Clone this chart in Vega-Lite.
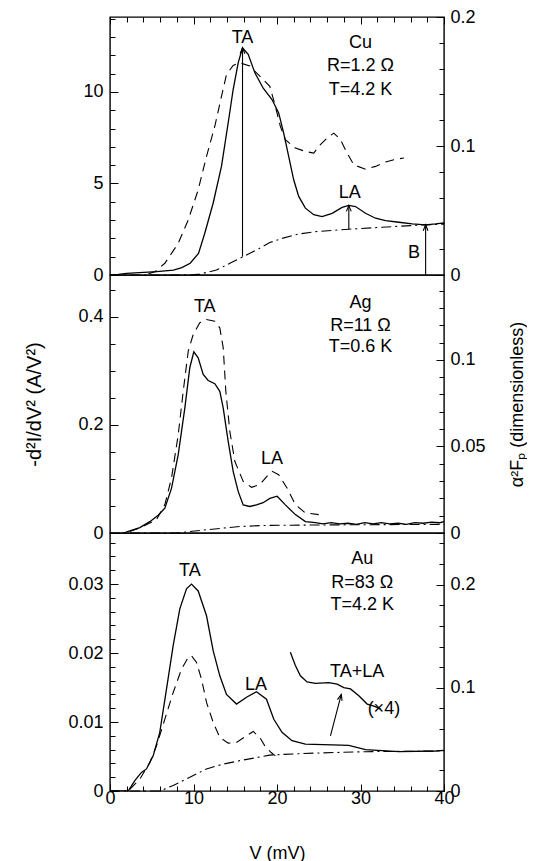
{
  "$schema": "https://vega.github.io/schema/vega-lite/v6.json",
  "padding": {"left": 24, "top": 7, "right": 0, "bottom": 0},
  "spacing": 0,
  "bounds": "flush",
  "config": {
    "view": {"stroke": "black", "strokeWidth": 1.4},
    "font": "Liberation Sans",
    "axis": {"domain": false, "grid": false, "tickColor": "black", "labelColor": "black", "titleColor": "black",
      "labelFont": "Liberation Sans", "labelFontSize": 18, "titleFont": "Liberation Sans", "titleFontSize": 18,
      "titleFontWeight": "normal", "tickWidth": 1, "labelOverlap": false, "labelFlush": false, "labelBound": false},
    "text": {"font": "Liberation Sans", "fontSize": 18, "color": "black"},
    "line": {"color": "black", "strokeWidth": 1.3}
  },
  "datasets": {
    "cu_solid": [{"v":0,"y":0},{"v":1,"y":0.03},{"v":2,"y":0.09},{"v":3.5,"y":0.13},{"v":5.6,"y":0.18},{"v":7.6,"y":0.27},{"v":8.6,"y":0.4},{"v":9.6,"y":0.64},{"v":10.6,"y":1.18},{"v":11.35,"y":2.28},{"v":12.35,"y":3.92},{"v":13.35,"y":5.93},{"v":14.15,"y":8.3},{"v":14.75,"y":10.13},{"v":15.35,"y":11.59},{"v":15.87,"y":12.41},{"v":16.55,"y":12.05},{"v":17.35,"y":11.04},{"v":18.35,"y":10.2},{"v":19.4,"y":9.58},{"v":20.2,"y":8.85},{"v":20.8,"y":7.75},{"v":21.4,"y":6.48},{"v":22.0,"y":5.2},{"v":22.6,"y":4.29},{"v":23.4,"y":3.65},{"v":24.4,"y":3.29},{"v":25.4,"y":3.19},{"v":26.6,"y":3.37},{"v":27.8,"y":3.69},{"v":28.6,"y":3.8},{"v":29.4,"y":3.74},{"v":30.6,"y":3.37},{"v":31.8,"y":3.1},{"v":33.0,"y":2.97},{"v":34.6,"y":2.88},{"v":36.2,"y":2.79},{"v":37.8,"y":2.74},{"v":39.0,"y":2.79},{"v":40,"y":2.85}],
    "cu_dash": [{"v":4.6,"y":0.001},{"v":5.4,"y":0.0026},{"v":6.57,"y":0.0091},{"v":8.17,"y":0.0246},{"v":9.37,"y":0.0427},{"v":10.56,"y":0.066},{"v":11.56,"y":0.092},{"v":12.55,"y":0.1153},{"v":13.35,"y":0.1385},{"v":13.95,"y":0.1554},{"v":14.75,"y":0.1625},{"v":15.54,"y":0.1645},{"v":16.74,"y":0.162},{"v":17.94,"y":0.1541},{"v":19.14,"y":0.1463},{"v":19.8,"y":0.1309},{"v":20.4,"y":0.1153},{"v":21.0,"y":0.1049},{"v":22.2,"y":0.0984},{"v":23.4,"y":0.0958},{"v":24.4,"y":0.0945},{"v":25.2,"y":0.1011},{"v":26.0,"y":0.1062},{"v":26.8,"y":0.11},{"v":27.6,"y":0.1049},{"v":28.4,"y":0.0945},{"v":29.2,"y":0.0854},{"v":30.6,"y":0.082},{"v":31.8,"y":0.0842},{"v":33.0,"y":0.0876},{"v":34.0,"y":0.0894},{"v":35.2,"y":0.0907}],
    "cu_bg": [{"v":0,"y":0},{"v":9.5,"y":0},{"v":10.75,"y":0.05},{"v":12.75,"y":0.27},{"v":14.35,"y":0.64},{"v":15.95,"y":1.0},{"v":17.55,"y":1.37},{"v":19.14,"y":1.77},{"v":20.6,"y":2.0},{"v":22.6,"y":2.24},{"v":24.6,"y":2.37},{"v":28.6,"y":2.5},{"v":32.6,"y":2.61},{"v":37.8,"y":2.74},{"v":40,"y":2.78}],
    "cu_arrows": [{"v":15.87,"v2":15.87,"y":1.0,"y2":12.41},{"v":28.6,"v2":28.6,"y":2.5,"y2":3.8},{"v":37.8,"v2":37.8,"y":0,"y2":2.74}],
    "cu_text": [{"v":15.87,"y":12.95,"t":"TA","a":"c"},{"v":28.7,"y":4.47,"t":"LA","a":"c"},{"v":36.4,"y":1.18,"t":"B","a":"c"},{"v":30.0,"y":12.68,"t":"Cu","a":"l"},{"v":30.0,"y":11.41,"t":"R=1.2 Ω","a":"l"},{"v":30.0,"y":10.13,"t":"T=4.2 K","a":"l"}],
    "ag_solid": [{"v":0,"y":0},{"v":0.8,"y":-0.003},{"v":1.6,"y":0},{"v":2.37,"y":0.004},{"v":3.57,"y":0.01},{"v":4.77,"y":0.021},{"v":5.77,"y":0.033},{"v":6.57,"y":0.046},{"v":7.37,"y":0.083},{"v":8.17,"y":0.145},{"v":8.96,"y":0.231},{"v":9.56,"y":0.306},{"v":10.04,"y":0.335},{"v":10.56,"y":0.324},{"v":11.16,"y":0.293},{"v":11.76,"y":0.282},{"v":12.55,"y":0.276},{"v":13.15,"y":0.262},{"v":13.56,"y":0.231},{"v":14.15,"y":0.17},{"v":14.75,"y":0.114},{"v":15.35,"y":0.077},{"v":15.95,"y":0.052},{"v":16.74,"y":0.049},{"v":17.54,"y":0.052},{"v":18.34,"y":0.056},{"v":19.14,"y":0.064},{"v":20.02,"y":0.068},{"v":21.0,"y":0.052},{"v":22.2,"y":0.034},{"v":23.4,"y":0.021},{"v":24.6,"y":0.019},{"v":25.5,"y":0.017},{"v":26.5,"y":0.019},{"v":27.5,"y":0.017},{"v":28.5,"y":0.018},{"v":29.5,"y":0.016},{"v":30.5,"y":0.019},{"v":31.5,"y":0.017},{"v":32.5,"y":0.019},{"v":33.5,"y":0.017},{"v":34.5,"y":0.018},{"v":35.5,"y":0.016},{"v":36.5,"y":0.019},{"v":37.5,"y":0.018},{"v":38.5,"y":0.02},{"v":39.5,"y":0.019},{"v":40,"y":0.021}],
    "ag_dash": [{"v":2.37,"y":0.0009},{"v":3.57,"y":0.0029},{"v":5.57,"y":0.0077},{"v":6.57,"y":0.0164},{"v":7.37,"y":0.0318},{"v":8.17,"y":0.0568},{"v":8.77,"y":0.0819},{"v":9.37,"y":0.105},{"v":9.96,"y":0.1146},{"v":10.75,"y":0.1214},{"v":11.55,"y":0.1233},{"v":12.55,"y":0.1223},{"v":13.15,"y":0.1185},{"v":13.56,"y":0.1069},{"v":13.87,"y":0.0819},{"v":14.35,"y":0.0587},{"v":14.95,"y":0.0414},{"v":15.95,"y":0.0298},{"v":16.95,"y":0.0264},{"v":17.94,"y":0.0279},{"v":19.14,"y":0.0347},{"v":19.42,"y":0.0356},{"v":20.2,"y":0.0337},{"v":21.2,"y":0.026},{"v":22.2,"y":0.0164},{"v":23.4,"y":0.0116},{"v":25.0,"y":0.0106}],
    "ag_bg": [{"v":0,"y":0},{"v":8,"y":0},{"v":11.55,"y":0.006},{"v":15.55,"y":0.012},{"v":18.6,"y":0.014},{"v":26.6,"y":0.015},{"v":40,"y":0.016}],
    "ag_text": [{"v":11.35,"y":0.417,"t":"TA","a":"c"},{"v":19.4,"y":0.136,"t":"LA","a":"c"},{"v":30.0,"y":0.426,"t":"Ag","a":"l"},{"v":30.0,"y":0.383,"t":"R=11 Ω","a":"l"},{"v":30.0,"y":0.343,"t":"T=0.6 K","a":"l"}],
    "au_solid": [{"v":0,"y":0},{"v":2.18,"y":0},{"v":2.97,"y":0.0015},{"v":3.77,"y":0.0027},{"v":4.37,"y":0.0032},{"v":5.17,"y":0.0051},{"v":5.96,"y":0.0085},{"v":6.77,"y":0.0148},{"v":7.57,"y":0.0211},{"v":8.36,"y":0.0264},{"v":9.16,"y":0.0293},{"v":9.76,"y":0.03},{"v":10.56,"y":0.029},{"v":11.56,"y":0.0254},{"v":12.36,"y":0.0203},{"v":13.15,"y":0.0167},{"v":13.95,"y":0.014},{"v":15.15,"y":0.0126},{"v":16.35,"y":0.0136},{"v":17.54,"y":0.0144},{"v":18.74,"y":0.0133},{"v":19.62,"y":0.0104},{"v":20.6,"y":0.0085},{"v":21.8,"y":0.0073},{"v":23.4,"y":0.0068},{"v":26.6,"y":0.0067},{"v":28.6,"y":0.0066},{"v":30.6,"y":0.006},{"v":34.6,"y":0.0057},{"v":39,"y":0.0058},{"v":40,"y":0.0059}],
    "au_x4": [{"v":21.6,"y":0.0201},{"v":22.2,"y":0.0182},{"v":22.8,"y":0.0167},{"v":23.6,"y":0.0158},{"v":24.6,"y":0.0156},{"v":26.2,"y":0.0157},{"v":27.2,"y":0.0155},{"v":28.0,"y":0.015},{"v":28.8,"y":0.0148},{"v":29.8,"y":0.0138},{"v":30.8,"y":0.0126},{"v":31.6,"y":0.0123},{"v":32.4,"y":0.0119}],
    "au_dash": [{"v":2.37,"y":0.0017},{"v":3.57,"y":0.0114},{"v":4.77,"y":0.0276},{"v":5.57,"y":0.0438},{"v":6.57,"y":0.0696},{"v":7.57,"y":0.0955},{"v":8.56,"y":0.118},{"v":9.37,"y":0.1295},{"v":9.76,"y":0.1311},{"v":10.36,"y":0.1246},{"v":10.96,"y":0.1084},{"v":11.56,"y":0.0858},{"v":12.36,"y":0.0664},{"v":13.15,"y":0.0519},{"v":14.15,"y":0.0464},{"v":15.15,"y":0.047},{"v":16.35,"y":0.0535},{"v":17.15,"y":0.0577},{"v":17.94,"y":0.0519},{"v":18.54,"y":0.0438},{"v":19.3,"y":0.0373},{"v":19.8,"y":0.0341}],
    "au_bg": [{"v":0,"y":0},{"v":5.96,"y":0},{"v":7.57,"y":0.0008},{"v":9.56,"y":0.002},{"v":11.56,"y":0.0032},{"v":13.56,"y":0.0039},{"v":15.55,"y":0.0044},{"v":19.14,"y":0.0052},{"v":20.6,"y":0.0053},{"v":24.6,"y":0.0055},{"v":30.6,"y":0.0057},{"v":40,"y":0.0058}],
    "au_arrows": [{"v":26.4,"v2":27.7,"y":0.008,"y2":0.014}],
    "au_text": [{"v":9.56,"y":0.0319,"t":"TA","a":"c"},{"v":17.5,"y":0.0153,"t":"LA","a":"c"},{"v":29.6,"y":0.0172,"t":"TA+LA","a":"c"},{"v":32.8,"y":0.0119,"t":"(×4)","a":"l"},{"v":30.2,"y":0.0336,"t":"Au","a":"l"},{"v":30.2,"y":0.0302,"t":"R=83 Ω","a":"l"},{"v":30.2,"y":0.0269,"t":"T=4.2 K","a":"l"}]
  },
  "vconcat": [
    {
      "width": 334, "height": 258,
      "layer": [
        {"data": {"name": "cu_solid"}, "mark": {"type": "line", "clip": true},
         "encoding": {
           "x": {"field": "v", "type": "quantitative", "scale": {"domain": [0, 40], "nice": false},
                 "axis": {"orient": "top", "labels": false, "title": null, "values": [0,2,4,6,8,10,12,14,16,18,20,22,24,26,28,30,32,34,36,38,40],
                          "tickSize": {"condition": {"test": "datum.value % 10 === 0", "value": -7}, "value": -5}}},
           "y": {"field": "y", "type": "quantitative", "scale": {"domain": [0, 14.09], "nice": false, "zero": false},
                 "axis": {"title": null, "values": [0,1,2,3,4,5,6,7,8,9,10,11,12,13,14],
                          "labelExpr": "datum.value % 5 === 0 ? '' + datum.value : ''",
                          "tickSize": {"condition": {"test": "datum.value % 5 === 0", "value": -8}, "value": -5},
                          "labelPadding": 15}}}},
        {"data": {"name": "cu_bg"}, "mark": {"type": "line", "strokeDash": [10, 4, 2, 4], "strokeWidth": 1.1},
         "encoding": {"x": {"field": "v", "type": "quantitative", "axis": null}, "y": {"field": "y", "type": "quantitative", "scale": {"domain": [0, 14.09], "nice": false, "zero": false}, "axis": null}}},
        {"data": {"name": "cu_arrows"}, "mark": {"type": "rule", "color": "black", "strokeWidth": 1.1},
         "encoding": {"x": {"field": "v", "type": "quantitative", "axis": null}, "x2": {"field": "v2"}, "y": {"field": "y", "type": "quantitative", "scale": {"domain": [0, 14.09], "nice": false, "zero": false}, "axis": null}, "y2": {"field": "y2"}}},
        {"data": {"name": "cu_arrows"}, "mark": {"type": "point", "shape": "M-0.6,1.5L0,0L0.6,1.5", "filled": false, "stroke": "black", "strokeWidth": 1.1, "size": 64, "opacity": 1},
         "encoding": {"x": {"field": "v2", "type": "quantitative", "axis": null}, "y": {"field": "y2", "type": "quantitative", "scale": {"domain": [0, 14.09], "nice": false, "zero": false}, "axis": null}}},
        {"data": {"name": "cu_text"}, "mark": {"type": "text", "baseline": "middle"},
         "encoding": {"x": {"field": "v", "type": "quantitative", "axis": null}, "y": {"field": "y", "type": "quantitative", "scale": {"domain": [0, 14.09], "nice": false, "zero": false}, "axis": null}, "text": {"field": "t"},
                      "align": {"condition": {"test": "datum.a === 'l'", "value": "left"}, "value": "center"}}},
        {"data": {"name": "cu_dash"}, "mark": {"type": "line", "strokeDash": [9, 6], "strokeWidth": 1.1},
         "encoding": {"x": {"field": "v", "type": "quantitative", "axis": null},
                      "y": {"field": "y", "type": "quantitative", "scale": {"domain": [0, 0.2], "nice": false, "zero": false},
                            "axis": {"orient": "right", "title": null, "values": [0,0.02,0.04,0.06,0.08,0.1,0.12,0.14,0.16,0.18,0.2],
                                     "labelExpr": "indexof([0,0.1,0.2], datum.value) >= 0 ? '' + datum.value : ''",
                                     "tickSize": {"condition": {"test": "indexof([0,0.1,0.2], datum.value) >= 0", "value": -8}, "value": -5},
                                     "labelPadding": 14}}}}
      ],
      "resolve": {"scale": {"y": "independent"}, "axis": {"x": "independent", "y": "independent"}}
    },
    {
      "width": 334, "height": 258,
      "layer": [
        {"data": {"name": "ag_solid"}, "mark": {"type": "line", "clip": true},
         "encoding": {
           "x": {"field": "v", "type": "quantitative", "scale": {"domain": [0, 40], "nice": false}, "axis": null},
           "y": {"field": "y", "type": "quantitative", "scale": {"domain": [0, 0.477], "nice": false, "zero": false},
                 "axis": {"title": "-d²I/dV² (A/V²)", "titleFontSize": 20, "titlePadding": 33, "values": [0,0.05,0.1,0.15,0.2,0.25,0.3,0.35,0.4,0.45],
                          "labelExpr": "indexof([0,0.2,0.4], datum.value) >= 0 ? '' + datum.value : ''",
                          "tickSize": {"condition": {"test": "indexof([0,0.2,0.4], datum.value) >= 0", "value": -8}, "value": -5},
                          "labelPadding": 15}}}},
        {"data": {"name": "ag_bg"}, "mark": {"type": "line", "strokeDash": [10, 4, 2, 4], "strokeWidth": 1.1},
         "encoding": {"x": {"field": "v", "type": "quantitative", "axis": null}, "y": {"field": "y", "type": "quantitative", "scale": {"domain": [0, 0.477], "nice": false, "zero": false}, "axis": null}}},
        {"data": {"name": "ag_text"}, "mark": {"type": "text", "baseline": "middle"},
         "encoding": {"x": {"field": "v", "type": "quantitative", "axis": null}, "y": {"field": "y", "type": "quantitative", "scale": {"domain": [0, 0.477], "nice": false, "zero": false}, "axis": null}, "text": {"field": "t"},
                      "align": {"condition": {"test": "datum.a === 'l'", "value": "left"}, "value": "center"}}},
        {"data": {"name": "ag_dash"}, "mark": {"type": "line", "strokeDash": [9, 6], "strokeWidth": 1.1},
         "encoding": {"x": {"field": "v", "type": "quantitative", "axis": null},
                      "y": {"field": "y", "type": "quantitative", "scale": {"domain": [0, 0.149], "nice": false, "zero": false},
                            "axis": {"orient": "right", "title": "α²Fₚ (dimensionless)", "titleAngle": 270, "titleBaseline": "top", "titlePadding": 23,
                                     "values": [0,0.01,0.02,0.03,0.04,0.05,0.06,0.07,0.08,0.09,0.1,0.11,0.12,0.13,0.14],
                                     "labelExpr": "indexof([0,0.05,0.1], datum.value) >= 0 ? '' + datum.value : ''",
                                     "tickSize": {"condition": {"test": "indexof([0,0.05,0.1], datum.value) >= 0", "value": -8}, "value": -5},
                                     "labelPadding": 14}}}}
      ],
      "resolve": {"scale": {"y": "independent"}, "axis": {"x": "independent", "y": "independent"}}
    },
    {
      "width": 334, "height": 258,
      "layer": [
        {"data": {"name": "au_solid"}, "mark": {"type": "line", "clip": true},
         "encoding": {
           "x": {"field": "v", "type": "quantitative", "scale": {"domain": [0, 40], "nice": false},
                 "axis": {"title": "V (mV)", "titlePadding": 35, "values": [0,2,4,6,8,10,12,14,16,18,20,22,24,26,28,30,32,34,36,38,40],
                          "labelExpr": "datum.value % 10 === 0 ? '' + datum.value : ''",
                          "tickSize": {"condition": {"test": "datum.value % 10 === 0", "value": -7}, "value": -5},
                          "labelPadding": 5}},
           "y": {"field": "y", "type": "quantitative", "scale": {"domain": [0, 0.0374], "nice": false, "zero": false},
                 "axis": {"title": null, "values": [0,0.002,0.004,0.006,0.008,0.01,0.012,0.014,0.016,0.018,0.02,0.022,0.024,0.026,0.028,0.03,0.032,0.034,0.036],
                          "labelExpr": "indexof([0,0.01,0.02,0.03], datum.value) >= 0 ? '' + datum.value : ''",
                          "tickSize": {"condition": {"test": "indexof([0,0.01,0.02,0.03], datum.value) >= 0", "value": -8}, "value": -5},
                          "labelPadding": 15}}}},
        {"data": {"name": "au_x4"}, "mark": {"type": "line"},
         "encoding": {"x": {"field": "v", "type": "quantitative", "axis": null}, "y": {"field": "y", "type": "quantitative", "scale": {"domain": [0, 0.0374], "nice": false, "zero": false}, "axis": null}}},
        {"data": {"name": "au_bg"}, "mark": {"type": "line", "strokeDash": [10, 4, 2, 4], "strokeWidth": 1.1},
         "encoding": {"x": {"field": "v", "type": "quantitative", "axis": null}, "y": {"field": "y", "type": "quantitative", "scale": {"domain": [0, 0.0374], "nice": false, "zero": false}, "axis": null}}},
        {"data": {"name": "au_arrows"}, "mark": {"type": "rule", "color": "black", "strokeWidth": 1.1},
         "encoding": {"x": {"field": "v", "type": "quantitative", "axis": null}, "x2": {"field": "v2"}, "y": {"field": "y", "type": "quantitative", "scale": {"domain": [0, 0.0374], "nice": false, "zero": false}, "axis": null}, "y2": {"field": "y2"}}},
        {"data": {"name": "au_arrows"}, "mark": {"type": "point", "shape": "M-0.6,1.5L0,0L0.6,1.5", "filled": false, "stroke": "black", "strokeWidth": 1.1, "size": 64, "opacity": 1, "angle": 15},
         "encoding": {"x": {"field": "v2", "type": "quantitative", "axis": null}, "y": {"field": "y2", "type": "quantitative", "scale": {"domain": [0, 0.0374], "nice": false, "zero": false}, "axis": null}}},
        {"data": {"name": "au_text"}, "mark": {"type": "text", "baseline": "middle"},
         "encoding": {"x": {"field": "v", "type": "quantitative", "axis": null}, "y": {"field": "y", "type": "quantitative", "scale": {"domain": [0, 0.0374], "nice": false, "zero": false}, "axis": null}, "text": {"field": "t"},
                      "align": {"condition": {"test": "datum.a === 'l'", "value": "left"}, "value": "center"}}},
        {"data": {"name": "au_dash"}, "mark": {"type": "line", "strokeDash": [9, 6], "strokeWidth": 1.1},
         "encoding": {"x": {"field": "v", "type": "quantitative", "axis": null},
                      "y": {"field": "y", "type": "quantitative", "scale": {"domain": [0, 0.25], "nice": false, "zero": false},
                            "axis": {"orient": "right", "title": null, "values": [0,0.02,0.04,0.06,0.08,0.1,0.12,0.14,0.16,0.18,0.2,0.22,0.24],
                                     "labelExpr": "indexof([0,0.1,0.2], datum.value) >= 0 ? '' + datum.value : ''",
                                     "tickSize": {"condition": {"test": "indexof([0,0.1,0.2], datum.value) >= 0", "value": -8}, "value": -5},
                                     "labelPadding": 14}}}}
      ],
      "resolve": {"scale": {"y": "independent"}, "axis": {"x": "independent", "y": "independent"}}
    }
  ]
}
